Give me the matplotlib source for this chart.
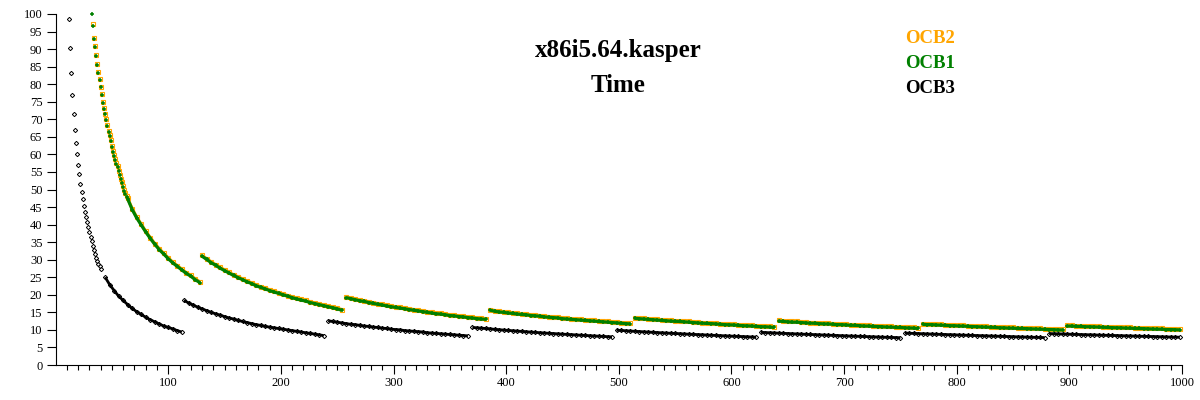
import matplotlib
matplotlib.use("Agg")
import matplotlib.pyplot as plt
import numpy as np

plt.rcParams['font.family'] = ['Liberation Serif', 'DejaVu Serif']

# ---------------- data (message length in bytes -> time per byte) ----------------
SERIES = ["OCB2", "OCB1", "OCB3"]
COLORS = {"OCB2": "#FFA500", "OCB1": "#008000", "OCB3": "#000000"}

# each curve: segment start length, length step, values
OCB1_STARTS = [32, 64, 130, 258, 386, 514, 642, 770, 898]
OCB1_STEPS = [1, 4, 4, 4, 4, 4, 4, 4, 4]
OCB1_VALUES = [
    [99.9, 96.6, 92.9, 90.6, 87.9, 85.4, 83.2, 81.1, 79.1, 76.8, 74.7, 73.0, 71.4, 69.7, 68.1, 66.5,
     65.2, 63.8, 62.0, 60.8, 59.6, 58.4, 57.4, 56.3, 55.2, 54.0, 52.9, 51.8, 50.7, 49.7, 48.8, 48.0],
    [47.3, 44.3, 41.9, 39.9, 37.9, 36.1, 34.4, 32.9, 31.6, 30.3, 29.1, 28.1, 27.1, 26.1, 25.3, 24.3, 23.5],
    [31.0, 30.1, 29.2, 28.4, 27.6, 26.9, 26.2, 25.5, 24.9, 24.3, 23.7, 23.2, 22.6, 22.1, 21.7, 21.2,
     20.8, 20.4, 20.0, 19.6, 19.2, 18.8, 18.5, 18.2, 17.8, 17.5, 17.2, 16.9, 16.6, 16.3, 16.0, 15.6],
    [19.2, 18.9, 18.6, 18.3, 18.1, 17.8, 17.55, 17.3, 17.1, 16.8, 16.6, 16.4, 16.2, 16.0, 15.8, 15.6,
     15.4, 15.2, 15.0, 14.8, 14.6, 14.5, 14.3, 14.1, 14.0, 13.8, 13.7, 13.5, 13.4, 13.2, 13.1, 13.0],
    [15.6, 15.3, 15.1, 15.0, 14.8, 14.7, 14.5, 14.4, 14.3, 14.1, 14.0, 13.9, 13.7, 13.6, 13.5, 13.4,
     13.2, 13.1, 13.0, 12.9, 12.8, 12.7, 12.6, 12.5, 12.4, 12.3, 12.2, 12.1, 12.0, 11.9, 11.8, 11.7],
    [13.3, 13.2, 13.1, 13.0, 12.9, 12.8, 12.7, 12.6, 12.5, 12.45, 12.4, 12.3, 12.2, 12.1, 12.0, 11.9,
     11.85, 11.8, 11.7, 11.6, 11.5, 11.45, 11.4, 11.3, 11.2, 11.15, 11.1, 11.0, 10.9, 10.9, 10.8, 10.7],
    [12.5, 12.4, 12.3, 12.2, 12.2, 12.1, 12.0, 11.9, 11.9, 11.8, 11.7, 11.7, 11.6, 11.5, 11.5, 11.4,
     11.3, 11.3, 11.2, 11.1, 11.1, 11.0, 10.96, 10.9, 10.8, 10.8, 10.7, 10.7, 10.6, 10.55, 10.5, 10.4],
    [11.6, 11.5, 11.5, 11.4, 11.35, 11.3, 11.2, 11.2, 11.1, 11.1, 11.0, 10.96, 10.9, 10.85, 10.8, 10.75,
     10.7, 10.6, 10.6, 10.5, 10.5, 10.4, 10.4, 10.35, 10.3, 10.25, 10.2, 10.15, 10.1, 10.07, 10.0, 9.98],
    [11.1, 11.1, 11.0, 11.0, 10.9, 10.9, 10.85, 10.8, 10.75, 10.7, 10.65, 10.6, 10.6, 10.5, 10.5, 10.4,
     10.4, 10.35, 10.3, 10.25, 10.2, 10.2, 10.1, 10.1, 10.05, 10.0],
]

OCB2_STARTS = [33, 64, 130, 258, 386, 514, 642, 770, 898]
OCB2_STEPS = [1, 4, 4, 4, 4, 4, 4, 4, 4]
OCB2_VALUES = [
    [97.1, 93.3, 90.9, 88.2, 85.8, 83.5, 81.4, 79.3, 77.1, 75.0, 73.3, 71.6, 70.0, 68.4, 66.8, 65.4,
     64.1, 62.3, 61.1, 59.9, 58.7, 57.6, 56.6, 55.4, 54.2, 53.1, 52.0, 51.0, 50.0, 49.0, 48.2],
    [47.5, 44.5, 42.1, 40.1, 38.1, 36.3, 34.6, 33.1, 31.8, 30.5, 29.3, 28.3, 27.3, 26.3, 25.5, 24.5, 23.7],
    [31.2, 30.3, 29.4, 28.6, 27.8, 27.1, 26.4, 25.7, 25.1, 24.5, 23.9, 23.4, 22.8, 22.3, 21.9, 21.4,
     21.0, 20.6, 20.2, 19.8, 19.4, 19.0, 18.7, 18.4, 18.0, 17.7, 17.4, 17.1, 16.8, 16.5, 16.2, 15.8],
    [19.4, 19.1, 18.8, 18.5, 18.3, 18.0, 17.75, 17.5, 17.3, 17.0, 16.8, 16.6, 16.4, 16.2, 16.0, 15.8,
     15.6, 15.4, 15.2, 15.0, 14.8, 14.7, 14.5, 14.3, 14.2, 14.0, 13.9, 13.7, 13.6, 13.4, 13.3, 13.2],
    [15.8, 15.5, 15.3, 15.2, 15.0, 14.9, 14.7, 14.6, 14.5, 14.3, 14.2, 14.1, 13.9, 13.8, 13.7, 13.6,
     13.4, 13.3, 13.2, 13.1, 13.0, 12.9, 12.8, 12.7, 12.6, 12.5, 12.4, 12.3, 12.2, 12.1, 12.0, 11.9],
    [13.5, 13.4, 13.3, 13.2, 13.1, 13.0, 12.9, 12.8, 12.7, 12.65, 12.6, 12.5, 12.4, 12.3, 12.2, 12.1,
     12.05, 12.0, 11.9, 11.8, 11.7, 11.65, 11.6, 11.5, 11.4, 11.35, 11.3, 11.2, 11.1, 11.1, 11.0, 10.9],
    [12.7, 12.6, 12.5, 12.4, 12.4, 12.3, 12.2, 12.1, 12.1, 12.0, 11.9, 11.9, 11.8, 11.7, 11.7, 11.6,
     11.5, 11.5, 11.4, 11.3, 11.3, 11.2, 11.15, 11.1, 11.0, 11.0, 10.9, 10.9, 10.8, 10.75, 10.7, 10.6],
    [11.8, 11.7, 11.7, 11.6, 11.55, 11.5, 11.4, 11.4, 11.3, 11.3, 11.2, 11.15, 11.1, 11.05, 11.0, 10.95,
     10.9, 10.8, 10.8, 10.7, 10.7, 10.6, 10.6, 10.55, 10.5, 10.45, 10.4, 10.35, 10.3, 10.27, 10.2, 10.18],
    [11.3, 11.3, 11.2, 11.2, 11.1, 11.1, 11.05, 11.0, 10.95, 10.9, 10.85, 10.8, 10.8, 10.7, 10.7, 10.6,
     10.6, 10.55, 10.5, 10.45, 10.4, 10.4, 10.3, 10.3, 10.25, 10.2],
]

OCB3_STARTS = [12, 44, 114, 242, 370, 498, 626, 754, 882]
OCB3_STEPS = [1, 4, 4, 4, 4, 4, 4, 4, 4]
OCB3_VALUES = [
    [98.5, 90.2, 83.3, 77.0, 71.5, 67.0, 63.3, 60.0, 57.1, 54.3, 51.6, 49.3, 47.3, 45.4, 43.7, 42.1,
     40.6, 39.2, 37.9, 36.6, 35.3, 34.0, 32.8, 31.6, 30.5, 29.6, 28.8, 28.1, 27.4],
    [25.0, 22.9, 21.2, 19.6, 18.4, 17.2, 16.1, 15.2, 14.4, 13.6, 12.9, 12.3, 11.7, 11.1, 10.7, 10.3, 9.8, 9.4],
    [18.4, 17.7, 17.1, 16.5, 16.0, 15.5, 15.0, 14.6, 14.2, 13.8, 13.4, 13.1, 12.7, 12.4, 12.1, 11.8,
     11.5, 11.3, 11.0, 10.8, 10.6, 10.4, 10.2, 10.0, 9.8, 9.6, 9.4, 9.2, 9.0, 8.8, 8.6, 8.4],
    [12.6, 12.4, 12.2, 12.0, 11.8, 11.6, 11.5, 11.3, 11.1, 11.0, 10.8, 10.7, 10.5, 10.4, 10.2, 10.1,
     10.0, 9.8, 9.7, 9.6, 9.5, 9.4, 9.2, 9.1, 9.0, 8.9, 8.8, 8.7, 8.6, 8.5, 8.4, 8.3],
    [10.7, 10.6, 10.5, 10.4, 10.3, 10.15, 10.05, 9.95, 9.85, 9.75, 9.66, 9.57, 9.47, 9.38, 9.3, 9.2,
     9.12, 9.04, 8.96, 8.88, 8.8, 8.72, 8.65, 8.57, 8.5, 8.43, 8.35, 8.28, 8.22, 8.15, 8.08, 8.02],
    [9.92, 9.84, 9.76, 9.69, 9.61, 9.54, 9.46, 9.39, 9.32, 9.25, 9.18, 9.11, 9.05, 8.98, 8.92, 8.85,
     8.79, 8.73, 8.67, 8.61, 8.55, 8.49, 8.43, 8.37, 8.32, 8.26, 8.21, 8.15, 8.1, 8.05, 7.99, 7.94],
    [9.31, 9.25, 9.2, 9.14, 9.08, 9.02, 8.97, 8.91, 8.86, 8.81, 8.75, 8.7, 8.65, 8.6, 8.55, 8.5,
     8.45, 8.4, 8.35, 8.3, 8.26, 8.21, 8.17, 8.12, 8.07, 8.03, 7.99, 7.94, 7.9, 7.86, 7.82, 7.77],
    [9.1, 9.05, 9.0, 8.96, 8.91, 8.86, 8.82, 8.77, 8.73, 8.68, 8.64, 8.6, 8.55, 8.51, 8.47, 8.43,
     8.39, 8.35, 8.31, 8.27, 8.23, 8.19, 8.15, 8.11, 8.07, 8.03, 8.0, 7.96, 7.92, 7.89, 7.85, 7.81],
    [8.96, 8.92, 8.88, 8.84, 8.8, 8.76, 8.72, 8.68, 8.64, 8.61, 8.57, 8.53, 8.49, 8.46, 8.42, 8.39,
     8.35, 8.32, 8.28, 8.25, 8.21, 8.18, 8.14, 8.11, 8.08, 8.04, 8.01, 7.98, 7.95, 7.92],
]

X_MAJOR = list(range(100, 1001, 100))
Y_TICKS = list(range(0, 101, 5))
TITLE = "x86i5.64.kasper"
SUBTITLE = "Time"

# ---------------- figure ----------------
fig = plt.figure(figsize=(12, 4), dpi=100)
ax = fig.add_axes([55.6 / 1200, 1 - 365 / 400, (1182 - 55.6) / 1200, (365 - 14) / 400])

styles = {
    "OCB2": dict(marker="s", ms=3.0, mfc="none", mew=0.8, lw=2.3),
    "OCB1": dict(marker="+", ms=3.4, mew=1.1, lw=2.3),
    "OCB3": dict(marker="D", ms=2.2, mfc="none", mew=0.7, lw=2.0),
}
data = {
    "OCB2": (OCB2_STARTS, OCB2_STEPS, OCB2_VALUES),
    "OCB1": (OCB1_STARTS, OCB1_STEPS, OCB1_VALUES),
    "OCB3": (OCB3_STARTS, OCB3_STEPS, OCB3_VALUES),
}
for name in SERIES:
    starts, steps, values = data[name]
    st = styles[name]
    for s, step, vals in zip(starts, steps, values):
        x = s + step * np.arange(len(vals))
        ls = "none" if step == 1 else "-"
        ax.plot(x, vals, linestyle=ls, color=COLORS[name], clip_on=False,
                solid_capstyle="butt", **st)

ax.set_xlim(0, 1000)
ax.set_ylim(0, 100)
for sp in ("top", "right"):
    ax.spines[sp].set_visible(False)
for sp in ("left", "bottom"):
    ax.spines[sp].set_linewidth(0.8)

ax.set_xticks(X_MAJOR)
ax.set_xticks([v for v in range(10, 1000, 10) if v % 100], minor=True)
ax.set_yticks(Y_TICKS)
ax.tick_params(axis="x", which="major", length=6.5, width=0.8, labelsize=9, pad=2)
ax.tick_params(axis="x", which="minor", length=3.6, width=0.8)
ax.tick_params(axis="y", which="major", length=6.5, width=0.8, labelsize=9, pad=3)

fig.text(618 / 1200, 1 - 57.3 / 400, TITLE, ha="center", va="baseline",
         fontsize=18, fontweight="bold")
fig.text(618 / 1200, 1 - 91.7 / 400, SUBTITLE, ha="center", va="baseline",
         fontsize=18, fontweight="bold")

legend_y = [43.3, 68.3, 93.3]
for name, yb in zip(SERIES, legend_y):
    fig.text(905 / 1200, 1 - yb / 400, name, ha="left", va="baseline",
             fontsize=13.5, fontweight="bold", color=COLORS[name])

fig.savefig("out.png", dpi=100)
